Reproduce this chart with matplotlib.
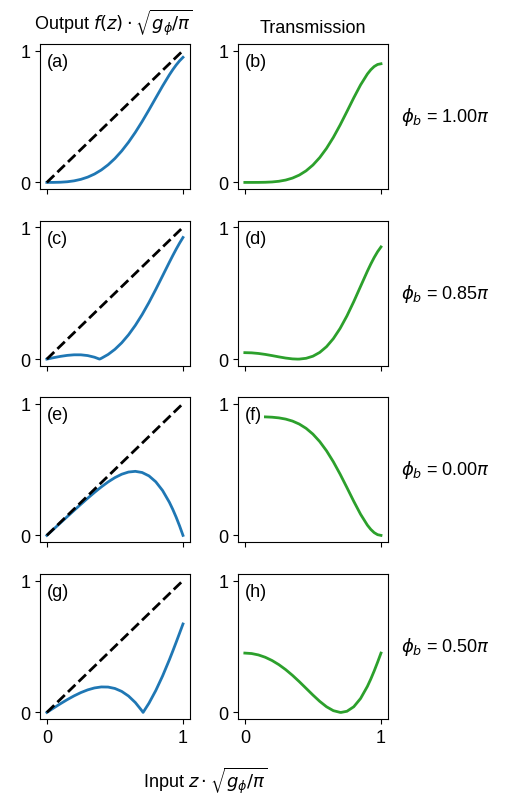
import matplotlib
matplotlib.use('Agg')
import matplotlib.pyplot as plt

plt.rcParams['font.family'] = 'Liberation Sans'
plt.rcParams['font.size'] = 13
plt.rcParams['mathtext.fontset'] = 'dejavusans'

# input z*sqrt(g/pi)
x_grid = [0.0, 0.05, 0.10, 0.15, 0.20, 0.25, 0.30, 0.35, 0.40, 0.45, 0.50,
          0.55, 0.60, 0.65, 0.70, 0.75, 0.80, 0.85, 0.90, 0.925, 0.95, 0.975, 1.0]
x_085 = [0.0, 0.05, 0.10, 0.15, 0.20, 0.25, 0.30, 0.35, 0.387, 0.40, 0.45, 0.50,
         0.55, 0.60, 0.65, 0.70, 0.75, 0.80, 0.85, 0.90, 0.925, 0.95, 0.975, 1.0]
x_050 = [0.0, 0.05, 0.10, 0.15, 0.20, 0.25, 0.30, 0.35, 0.40, 0.45, 0.50,
         0.55, 0.60, 0.65, 0.70, 0.707, 0.75, 0.80, 0.85, 0.90, 0.925, 0.95, 0.975, 1.0]

# phi_b = 1.00 pi
out_100 = [0.0, 0.0002, 0.0015, 0.0050, 0.0119, 0.0233, 0.0401, 0.0635, 0.0944, 0.1335, 0.1815,
           0.2387, 0.3050, 0.3799, 0.4621, 0.5500, 0.6408, 0.7310, 0.8161, 0.8551, 0.8907, 0.9222, 0.9487]
trans_100 = [0.0, 0.0000, 0.0002, 0.0011, 0.0035, 0.0086, 0.0179, 0.0329, 0.0557, 0.0880, 0.1318,
             0.1884, 0.2584, 0.3415, 0.4359, 0.5378, 0.6416, 0.7396, 0.8222, 0.8545, 0.8791, 0.8946, 0.9000]

# phi_b = 0.85 pi
out_085 = [0.0, 0.0109, 0.0207, 0.0283, 0.0326, 0.0325, 0.0268, 0.0143, 0.0, 0.0059, 0.0352, 0.0742,
           0.1238, 0.1844, 0.2560, 0.3380, 0.4294, 0.5282, 0.6313, 0.7349, 0.7854, 0.8340, 0.8800, 0.9225]
trans_085 = [0.0490, 0.0475, 0.0428, 0.0356, 0.0266, 0.0169, 0.0080, 0.0017, 0.0, 0.0002, 0.0061, 0.0220,
             0.0507, 0.0944, 0.1551, 0.2332, 0.3279, 0.4359, 0.5516, 0.6668, 0.7209, 0.7707, 0.8146, 0.8510]

# phi_b = 0.00 pi
out_000 = [0.0, 0.0474, 0.0949, 0.1422, 0.1894, 0.2360, 0.2818, 0.3259, 0.3676, 0.4055, 0.4382,
           0.4640, 0.4806, 0.4858, 0.4769, 0.4514, 0.4067, 0.3405, 0.2511, 0.1973, 0.1375, 0.0717, 0.0]
trans_000 = [0.9000, 0.9000, 0.8998, 0.8989, 0.8965, 0.8914, 0.8821, 0.8671, 0.8443, 0.8120, 0.7682,
             0.7116, 0.6416, 0.5585, 0.4641, 0.3622, 0.2584, 0.1604, 0.0778, 0.0455, 0.0209, 0.0054, 0.0]

# phi_b = 0.50 pi
out_050 = [0.0, 0.0334, 0.0660, 0.0970, 0.1255, 0.1505, 0.1709, 0.1856, 0.1932, 0.1923, 0.1815,
           0.1593, 0.1242, 0.0749, 0.0104, 0.0, 0.0697, 0.1656, 0.2761, 0.3995, 0.4651, 0.5326, 0.6014, 0.6708]
trans_050 = [0.4500, 0.4465, 0.4359, 0.4182, 0.3936, 0.3622, 0.3245, 0.2811, 0.2332, 0.1826, 0.1318,
             0.0839, 0.0428, 0.0133, 0.0002, 0.0, 0.0086, 0.0428, 0.1055, 0.1971, 0.2528, 0.3143, 0.3805, 0.4500]

rows = [
    (x_grid, out_100, trans_100, r'$\phi_b$ = 1.00$\pi$', '(a)', '(b)'),
    (x_085, out_085, trans_085, r'$\phi_b$ = 0.85$\pi$', '(c)', '(d)'),
    (x_grid, out_000, trans_000, r'$\phi_b$ = 0.00$\pi$', '(e)', '(f)'),
    (x_050, out_050, trans_050, r'$\phi_b$ = 0.50$\pi$', '(g)', '(h)'),
]

fig = plt.figure(figsize=(5.06, 8.12), dpi=100)

row_bottoms = [0.766, 0.5484, 0.3313, 0.1133]
col_lefts = [0.0791, 0.4704]
w, h = 0.296, 0.1786

label_box = dict(facecolor='white', edgecolor='none', pad=1.5)

for r, (xs, out, trans, phi_lbl, lbl_l, lbl_r) in enumerate(rows):
    ax1 = fig.add_axes([col_lefts[0], row_bottoms[r], w, h])
    ax2 = fig.add_axes([col_lefts[1], row_bottoms[r], w, h])

    ax1.plot(xs, out, color='tab:blue', lw=2)
    ax1.plot([0, 1], [0, 1], 'k--', lw=2)
    ax2.plot(xs, trans, color='tab:green', lw=2)

    for ax, lbl in [(ax1, lbl_l), (ax2, lbl_r)]:
        ax.set_xlim(-0.05, 1.05)
        ax.set_ylim(-0.05, 1.05)
        ax.set_xticks([0, 1])
        ax.set_yticks([0, 1])
        ax.text(0.045, 0.935, lbl, transform=ax.transAxes, ha='left', va='top',
                bbox=label_box, zorder=5)
        if r < 3:
            ax.set_xticklabels([])

    ax2.text(1.087, 0.5, phi_lbl, transform=ax2.transAxes, ha='left', va='center')

fig.text(113 / 506, 1 - 30.5 / 812, r'Output $f(z)\cdot\sqrt{g_\phi/\pi}$', ha='center', va='baseline')
fig.text(313 / 506, 1 - 33.3 / 812, 'Transmission', ha='center', va='baseline')
fig.text(205 / 506, 1 - 788 / 812, r'Input $z\cdot\sqrt{g_\phi/\pi}$', ha='center', va='baseline')

plt.savefig('out.png', dpi=100)
